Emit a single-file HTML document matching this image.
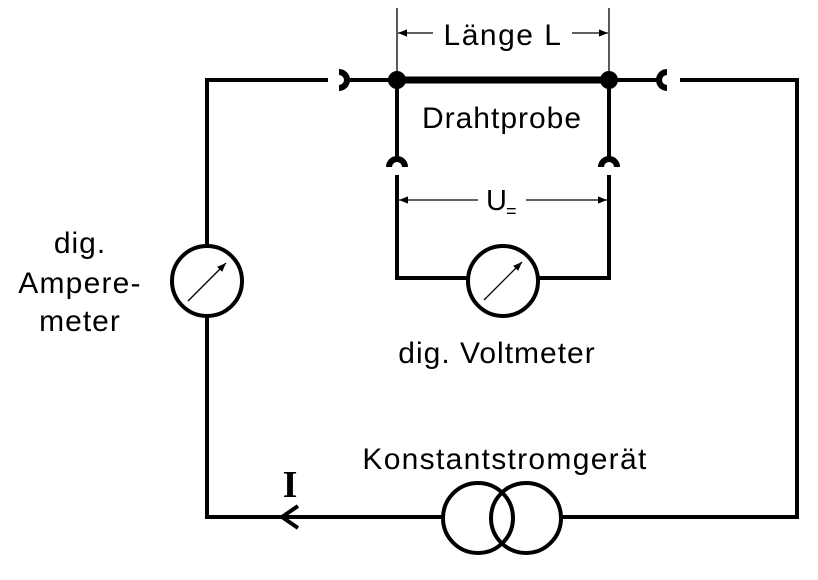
<!DOCTYPE html>
<html><head><meta charset="utf-8"><style>
body{margin:0;background:#fff}
svg{display:block}
text{font-family:"Liberation Sans",sans-serif;fill:#000}
</style></head><body>
<svg width="818" height="580" viewBox="0 0 818 580" xmlns="http://www.w3.org/2000/svg">
<defs>
<marker id="a" viewBox="0 0 10 10" refX="10" refY="5" markerWidth="9" markerHeight="9" orient="auto-start-reverse" markerUnits="userSpaceOnUse"><path d="M0,1 L10,5 L0,9 Z" fill="#000"/></marker>
</defs>
<g stroke="#000" stroke-width="4" fill="none">
<polyline points="328,80 207,80 207,246"/>
<polyline points="207,316 207,517 443,517"/>
<polyline points="561,517 797,517 797,80 680,80"/>
<line x1="346" y1="80" x2="397" y2="80"/>
<line x1="397" y1="80" x2="609" y2="80" stroke-width="7"/>
<line x1="609" y1="80" x2="659" y2="80"/>
<path d="M339,72 A8,8 0 0 1 339,88" stroke-width="6"/>
<path d="M667,72 A8,8 0 0 0 667,88" stroke-width="6"/>
<path d="M389,167 A8,8 0 0 1 405,167" stroke-width="6"/>
<path d="M601,167 A8,8 0 0 1 617,167" stroke-width="6"/>
<line x1="397" y1="80" x2="397" y2="160"/>
<line x1="609" y1="80" x2="609" y2="160"/>
<polyline points="397,175 397,278 468,278"/>
<polyline points="538,278 609,278 609,175"/>
<circle cx="207" cy="281" r="35"/>
<circle cx="503" cy="281" r="35"/>
<circle cx="478" cy="518" r="35"/>
<circle cx="526" cy="518" r="35"/>
<polyline points="298,506 282,517 298,528"/>
</g>
<circle cx="397" cy="80" r="9" fill="#000"/>
<circle cx="609" cy="80" r="9" fill="#000"/>
<g stroke="#000" stroke-width="1.3" fill="none">
<line x1="188" y1="301" x2="226" y2="263" marker-end="url(#a)"/>
<line x1="484" y1="300" x2="522" y2="262" marker-end="url(#a)"/>
<line x1="397" y1="8" x2="397" y2="72"/>
<line x1="609" y1="8" x2="609" y2="72"/>
<line x1="433" y1="33" x2="398" y2="33" marker-end="url(#a)"/>
<line x1="572" y1="33" x2="608" y2="33" marker-end="url(#a)"/>
<line x1="478" y1="200" x2="399" y2="200" marker-end="url(#a)"/>
<line x1="526" y1="200" x2="607" y2="200" marker-end="url(#a)"/>
</g>
<text x="503" y="45" font-size="30" text-anchor="middle" letter-spacing="1.5">Länge L</text>
<text x="502" y="128" font-size="30" text-anchor="middle" letter-spacing="1">Drahtprobe</text>
<text x="486" y="210" font-size="29">U</text>
<text x="506" y="217" font-size="18">=</text>
<text x="497" y="363" font-size="30" text-anchor="middle" letter-spacing="1">dig. Voltmeter</text>
<text x="505" y="469" font-size="30" text-anchor="middle" letter-spacing="1.3">Konstantstromgerät</text>
<text x="80" y="253" font-size="30" text-anchor="middle" letter-spacing="1">dig.</text>
<text x="80" y="293" font-size="30" text-anchor="middle" letter-spacing="1.2">Ampere-</text>
<text x="80" y="331" font-size="30" text-anchor="middle" letter-spacing="1">meter</text>
<text x="290" y="497" font-size="38" font-weight="bold" text-anchor="middle" style="font-family:'Liberation Serif',serif">I</text>
</svg>
</body></html>
